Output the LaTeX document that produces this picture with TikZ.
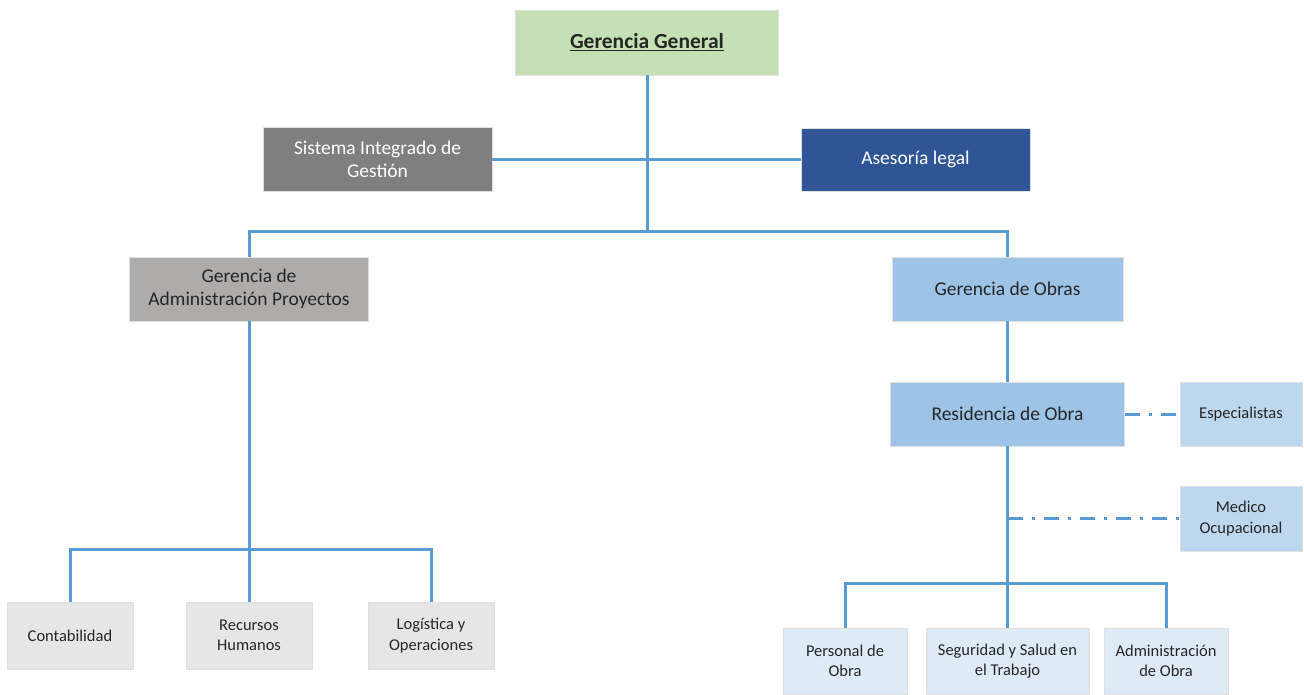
\documentclass[tikz,border=0pt]{standalone}
\usepackage{fontspec}
\setmainfont{Carlito}
\usetikzlibrary{calc}
\definecolor{lnc}{HTML}{5B9BD5}
\definecolor{cgg}{HTML}{C5E0B4}
\definecolor{csig}{HTML}{7F7F7F}
\definecolor{casl}{HTML}{2F5597}
\definecolor{cgap}{HTML}{AEABAB}
\definecolor{cgo}{HTML}{9DC3E6}
\definecolor{cesp}{HTML}{BDD7EE}
\definecolor{cbr}{HTML}{DEEBF7}
\definecolor{cbl}{HTML}{E7E6E6}
\tikzset{
  box/.style={rectangle, inner sep=0pt, align=center, draw=black!12, line width=0.8pt, text=black!85},
  bigtxt/.style={font=\fontsize{19.5}{23.5}\selectfont},
  smalltxt/.style={font=\fontsize{16.5}{20.5}\selectfont},
  conn/.style={draw=lnc, line width=3pt},
  dashdot/.style={draw=lnc, line width=3pt, dash pattern=on 15pt off 9pt on 3pt off 9pt},
}
\begin{document}
\begin{tikzpicture}[x=1pt,y=-1pt]
\useasboundingbox (0,0) rectangle (1304,694);
% nodes
\node[box, fill=cgg, minimum width=263pt, minimum height=65pt, font=\fontsize{21.5}{25}\selectfont\bfseries] (gg) at (647,42.5) {\underline{Gerencia General}};
\node[box, fill=csig, text=white, minimum width=229pt, minimum height=64pt, bigtxt] (sig) at (377.5,159.5) {Sistema Integrado de\\Gestión};
\node[box, fill=casl, text=white, minimum width=229pt, minimum height=63pt, bigtxt] (asl) at (915.5,159.5) {Asesoría legal};
\node[box, fill=cgap, minimum width=239pt, minimum height=64pt, bigtxt] (gap) at (249,289) {Gerencia de\\Administración Proyectos};
\node[box, fill=cgo, minimum width=231pt, minimum height=64pt, bigtxt] (go) at (1007.5,289) {Gerencia de Obras};
\node[box, fill=cgo, minimum width=234pt, minimum height=64pt, bigtxt] (ro) at (1007.5,414) {Residencia de Obra};
\node[box, fill=cesp, minimum width=122pt, minimum height=64pt, smalltxt] (esp) at (1241,414) {Especialistas};
\node[box, fill=cesp, minimum width=122pt, minimum height=65pt, smalltxt] (med) at (1241,518.5) {Medico\\Ocupacional};
\node[box, fill=cbl, minimum width=126pt, minimum height=67pt, smalltxt] (cont) at (70,635.5) {Contabilidad};
\node[box, fill=cbl, minimum width=126pt, minimum height=67pt, smalltxt] (rrhh) at (249,635.5) {Recursos\\Humanos};
\node[box, fill=cbl, minimum width=126pt, minimum height=67pt, smalltxt] (log) at (431,635.5) {Logística y\\Operaciones};
\node[box, fill=cbr, minimum width=124pt, minimum height=66pt, smalltxt] (pers) at (845,661) {Personal de\\Obra};
\node[box, fill=cbr, minimum width=163pt, minimum height=66pt, smalltxt] (seg) at (1007.5,661) {Seguridad y Salud en\\el Trabajo};
\node[box, fill=cbr, minimum width=124pt, minimum height=66pt, smalltxt] (adm) at (1166,661) {Administración\\de Obra};
% junctions
\coordinate (j1) at (647,231);
\coordinate (j2) at (249,549);
\coordinate (j3) at (1007.5,583);
\coordinate (j4) at (1007.5,518.5);
% connectors
\draw[conn] (gg.south) -- (j1);
\draw[conn] (sig.east) -- (asl.west);
\draw[conn] (gap.north) |- (j1) -| (go.north);
\draw[conn] (go.south) -- (ro.north);
\draw[conn] (ro.south) -- (j3);
\draw[conn] (gap.south) -- (j2);
\draw[conn] (cont.north) |- (j2) -| (log.north);
\draw[conn] (j2) -- (rrhh.north);
\draw[conn] (pers.north) |- (j3) -| (adm.north);
\draw[conn] (j3) -- (seg.north);
\draw[dashdot] (ro.east) -- (esp.west);
\draw[dashdot] (j4) -- (med.west);
\end{tikzpicture}
\end{document}
